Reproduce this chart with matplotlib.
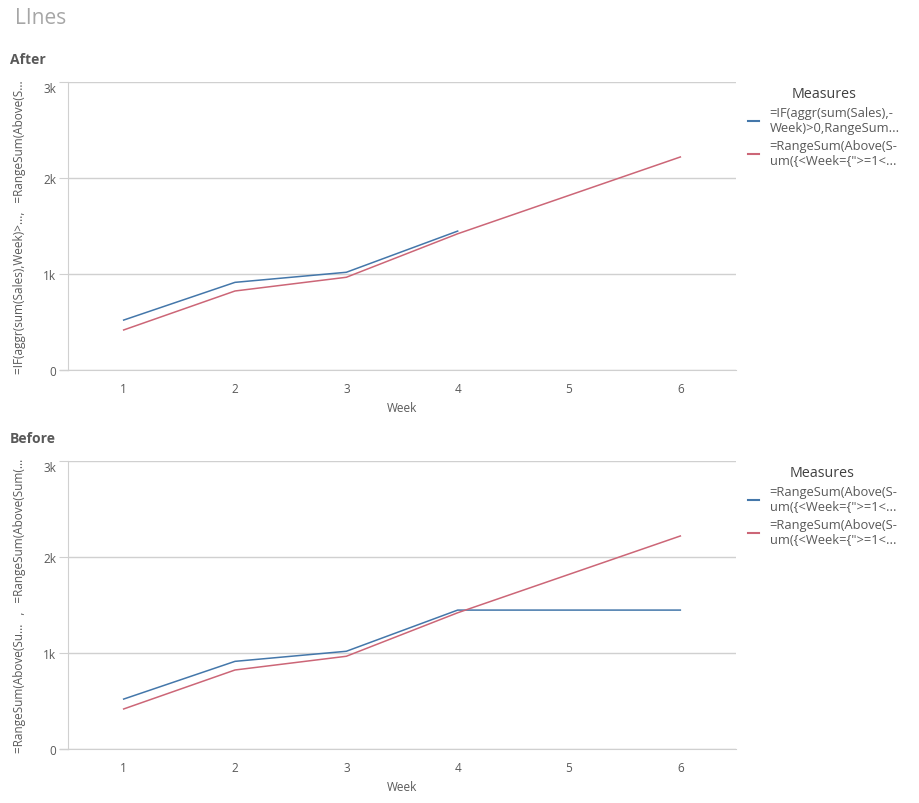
import matplotlib.pyplot as plt
from matplotlib.lines import Line2D

# --- dati ---
weeks = [1, 2, 3, 4, 5, 6]
after_blue = [520, 913, 1018, 1447]                 # solo fino alla settimana 4
after_red = [417, 823, 966, 1419, 1819, 2219]
before_blue = [520, 913, 1018, 1447, 1447, 1447]    # piatto dopo la settimana 4
before_red = [417, 823, 966, 1419, 1819, 2219]

y_ticks = [0, 1000, 2000, 3000]
y_tick_labels = ['0', '1k', '2k', '3k']

after_labels = ['=IF(aggr(sum(Sales),-\nWeek)>0,RangeSum...',
                '=RangeSum(Above(S-\num({<Week={">=1<...']
before_labels = ['=RangeSum(Above(S-\num({<Week={">=1<...',
                 '=RangeSum(Above(S-\num({<Week={">=1<...']
after_ylabel = '=IF(aggr(sum(Sales),Week)>...,   =RangeSum(Above(S...'
before_ylabel = '=RangeSum(Above(Su...   ,   =RangeSum(Above(Sum(...'

BLUE = '#4477aa'
RED = '#cc6677'
GRID = '#d0d0d0'
TEXT = '#595959'

plt.rcParams['font.family'] = ['Open Sans', 'DejaVu Sans']

W, H = 920, 804
fig = plt.figure(figsize=(W / 100, H / 100), dpi=100)


def px_axes(left, top, right, bottom):
    return fig.add_axes([left / W, 1 - bottom / H, (right - left) / W, (bottom - top) / H])


def disegna(ax, blue, red, labels, ylabel, legend_top):
    ax.plot(weeks[:len(blue)], blue, color=BLUE, lw=1.1)
    ax.plot(weeks[:len(red)], red, color=RED, lw=1.1)
    ax.set_xlim(0.5, 6.5)
    ax.set_ylim(0, 3000)
    ax.set_xticks(weeks)
    ax.set_yticks(y_ticks)
    ax.set_yticklabels(y_tick_labels)
    for lab in ax.get_yticklabels():
        if lab.get_text() == '3k':
            lab.set_va('top')
    ax.grid(axis='y', color=GRID, lw=1)
    for s in ['right', 'top']:
        ax.spines[s].set_visible(False)
    for s in ['left', 'bottom']:
        ax.spines[s].set_color(GRID)
    ax.tick_params(axis='y', length=6.5, color=GRID, labelcolor=TEXT, labelsize=8.5, pad=2)
    ax.tick_params(axis='x', length=0, labelcolor=TEXT, labelsize=8.5, pad=9)
    # asse x che sporge a sinistra come nell'originale
    ax.add_line(Line2D([-0.012, 0], [0, 0], transform=ax.transAxes, color=GRID,
                       lw=1, clip_on=False))
    ax.set_xlabel('Week', color=TEXT, fontsize=8.5, labelpad=4)
    pos = ax.get_position()
    fig.text(20 / W, pos.y0 + pos.height / 2, ylabel, rotation=90, ha='center',
             va='center', color=TEXT, fontsize=8.5)
    handles = [Line2D([], [], color=BLUE, lw=1.5), Line2D([], [], color=RED, lw=1.5)]
    leg = fig.legend(handles, labels, title='Measures', loc='upper left',
                     bbox_to_anchor=(736 / W, 1 - legend_top / H), frameon=False,
                     handlelength=0.9, handletextpad=0.8, labelspacing=0.45,
                     fontsize=9.3, title_fontsize=10.3)
    for t in leg.get_texts():
        t.set_color(TEXT)
        t.set_linespacing(1.12)
    leg.get_title().set_color('#404040')


ax1 = px_axes(68, 83, 736, 371)
disegna(ax1, after_blue, after_red, after_labels, after_ylabel, 75)

ax2 = px_axes(68, 462, 736, 750)
disegna(ax2, before_blue, before_red, before_labels, before_ylabel, 454)

fig.text(15 / W, 1 - 18 / H, 'LInes', color='#a6a6a6', fontsize=15, va='center')
fig.text(10 / W, 1 - 60 / H, 'After', color=TEXT, fontsize=10, fontweight='bold', va='center')
fig.text(10 / W, 1 - 439 / H, 'Before', color=TEXT, fontsize=10, fontweight='bold', va='center')

fig.savefig('out.png', dpi=100)
